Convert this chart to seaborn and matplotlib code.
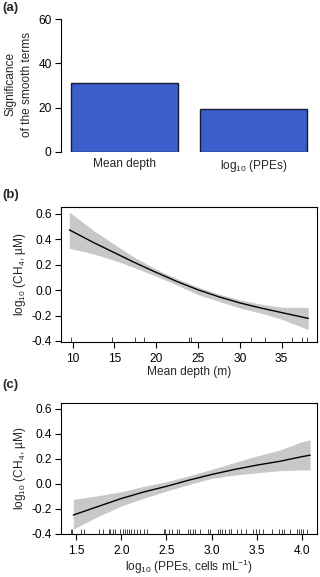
import matplotlib
matplotlib.use("Agg")
import numpy as np
import pandas as pd
import matplotlib.pyplot as plt
import seaborn as sns

sns.set_style("ticks")
plt.rcParams["font.family"] = ["Liberation Sans", "DejaVu Sans"]
plt.rcParams["mathtext.default"] = "regular"
plt.rcParams["axes.unicode_minus"] = False
FS = 8.6
plt.rcParams["font.size"] = FS
plt.rcParams["xtick.labelsize"] = FS
plt.rcParams["ytick.labelsize"] = FS

# (a) significance of smooth terms
terms = ["Mean depth", "log$_{10}$ (PPEs)"]
significance = [31.2, 19.2]

# (b) partial effect of mean depth
depth_x = [9.6, 12.5, 15, 17.5, 20, 22.5, 25, 27.5, 30, 32.5, 35, 38.2]
depth_fit = [0.475, 0.375, 0.295, 0.215, 0.14, 0.068, 0.003, -0.052, -0.10, -0.14, -0.176, -0.222]
depth_hi = [0.615, 0.47, 0.36, 0.255, 0.165, 0.09, 0.025, -0.03, -0.076, -0.11, -0.135, -0.135]
depth_lo = [0.33, 0.285, 0.235, 0.175, 0.11, 0.04, -0.035, -0.088, -0.14, -0.18, -0.228, -0.31]
depth_rug = [9.8, 14.7, 17.4, 18.5, 23.9, 24.2, 27.9, 31.3, 33.0, 36.3, 37.5, 38.1]

# (c) partial effect of log10 PPEs
ppe_x = [1.47, 1.75, 2.0, 2.25, 2.5, 2.75, 3.0, 3.25, 3.5, 3.75, 4.0, 4.09]
ppe_fit = [-0.25, -0.18, -0.118, -0.065, -0.02, 0.03, 0.075, 0.115, 0.15, 0.18, 0.218, 0.23]
ppe_hi = [-0.125, -0.095, -0.063, -0.02, 0.017, 0.065, 0.116, 0.17, 0.223, 0.27, 0.338, 0.351]
ppe_lo = [-0.363, -0.26, -0.178, -0.115, -0.058, -0.005, 0.044, 0.07, 0.089, 0.105, 0.111, 0.111]
ppe_rug = [1.45, 1.46, 1.56, 1.59, 1.75, 1.80, 1.87, 1.88, 1.91, 1.93, 1.99, 2.02, 2.04,
           2.06, 2.09, 2.11, 2.14, 2.18, 2.21, 2.25, 2.29, 2.47, 2.48, 2.53, 2.56, 2.62,
           2.64, 2.74, 2.76, 2.79, 2.82, 2.87, 2.96, 2.98, 3.07, 3.09, 3.12, 3.15, 3.19,
           3.21, 3.22, 3.28, 3.33, 3.38, 3.46, 3.49, 3.52, 3.57, 3.67, 3.75, 3.78, 3.80,
           3.87, 3.95, 3.97, 3.99, 4.01, 4.06]

W, H = 320, 577
fig = plt.figure(figsize=(W / 100, H / 100), dpi=100)


def box(left, top, right, bottom):
    return [left / W, 1 - bottom / H, (right - left) / W, (bottom - top) / H]


# ---------------- panel a ----------------
ax = fig.add_axes(box(61, 19, 317, 152))
sns.barplot(x=terms, y=significance, color="#3a5fcd", saturation=1, width=0.83,
            edgecolor="#1a1a2a", linewidth=1.0, ax=ax)
ax.set_xlim(-0.49, 1.49)
ax.set_ylim(0, 60)
ax.set_yticks([0, 20, 40, 60])
sns.despine(ax=ax, bottom=True)
ax.spines["left"].set_bounds(0, 60)
ax.spines["left"].set_linewidth(0.8)
ax.spines["left"].set_color("black")
ax.tick_params(axis="y", direction="out", length=4.3, width=0.8, pad=2.5, colors="black")
ax.tick_params(axis="x", length=0, pad=4.5)
ax.set_ylabel("Significance\nof the smooth terms", fontsize=FS, linespacing=1.45)
ax.yaxis.set_label_coords(-0.165, 0.51)
ax.yaxis.label.set_va("center")


def gam_panel(ax, x, fit, lo, hi, rug, xlim, ylim, xticks, xlabel):
    ax.fill_between(x, lo, hi, color="#c8c8c8", linewidth=0)
    sns.lineplot(x=x, y=fit, color="black", linewidth=1.0, ax=ax)
    sns.rugplot(x=rug, ax=ax, height=0.035, color="#444444", linewidth=0.7,
                expand_margins=False)
    ax.set_xlim(*xlim)
    ax.set_ylim(*ylim)
    ax.set_xticks(xticks)
    ax.set_yticks([-0.4, -0.2, 0.0, 0.2, 0.4, 0.6])
    ax.set_yticklabels(["-0.4", "-0.2", "0.0", "0.2", "0.4", "0.6"])
    for s in ax.spines.values():
        s.set_linewidth(0.8)
        s.set_color("black")
        s.set_visible(True)
    ax.tick_params(direction="out", length=4.3, width=0.8, colors="black")
    ax.tick_params(axis="y", pad=2.5)
    ax.tick_params(axis="x", pad=3.5)
    ax.set_xlabel(xlabel, fontsize=FS, labelpad=1.0)
    ax.set_ylabel("log$_{10}$ (CH$_4$, µM)", fontsize=FS)
    ax.yaxis.set_label_coords(-0.16, 0.5)
    ax.yaxis.label.set_va("center")


# ---------------- panel b ----------------
ax_b = fig.add_axes(box(61, 207, 317, 342))
gam_panel(ax_b, depth_x, depth_fit, depth_lo, depth_hi, depth_rug,
          (8.6, 39.25), (-0.408, 0.655), [10, 15, 20, 25, 30, 35], "Mean depth (m)")

# ---------------- panel c ----------------
ax_c = fig.add_axes(box(61, 403, 317, 534))
gam_panel(ax_c, ppe_x, ppe_fit, ppe_lo, ppe_hi, ppe_rug,
          (1.334, 4.166), (-0.402, 0.648), [1.5, 2.0, 2.5, 3.0, 3.5, 4.0],
          "log$_{10}$ (PPEs, cells mL$^{-1}$)")
ax_c.set_xticklabels(["1.5", "2.0", "2.5", "3.0", "3.5", "4.0"])

# panel letters
for lab, ypix in [("(a)", 8), ("(b)", 195), ("(c)", 385)]:
    fig.text(2 / W, 1 - ypix / H, lab, fontsize=9.5, fontweight="bold", va="center", ha="left")

fig.savefig("out.png", dpi=100)
